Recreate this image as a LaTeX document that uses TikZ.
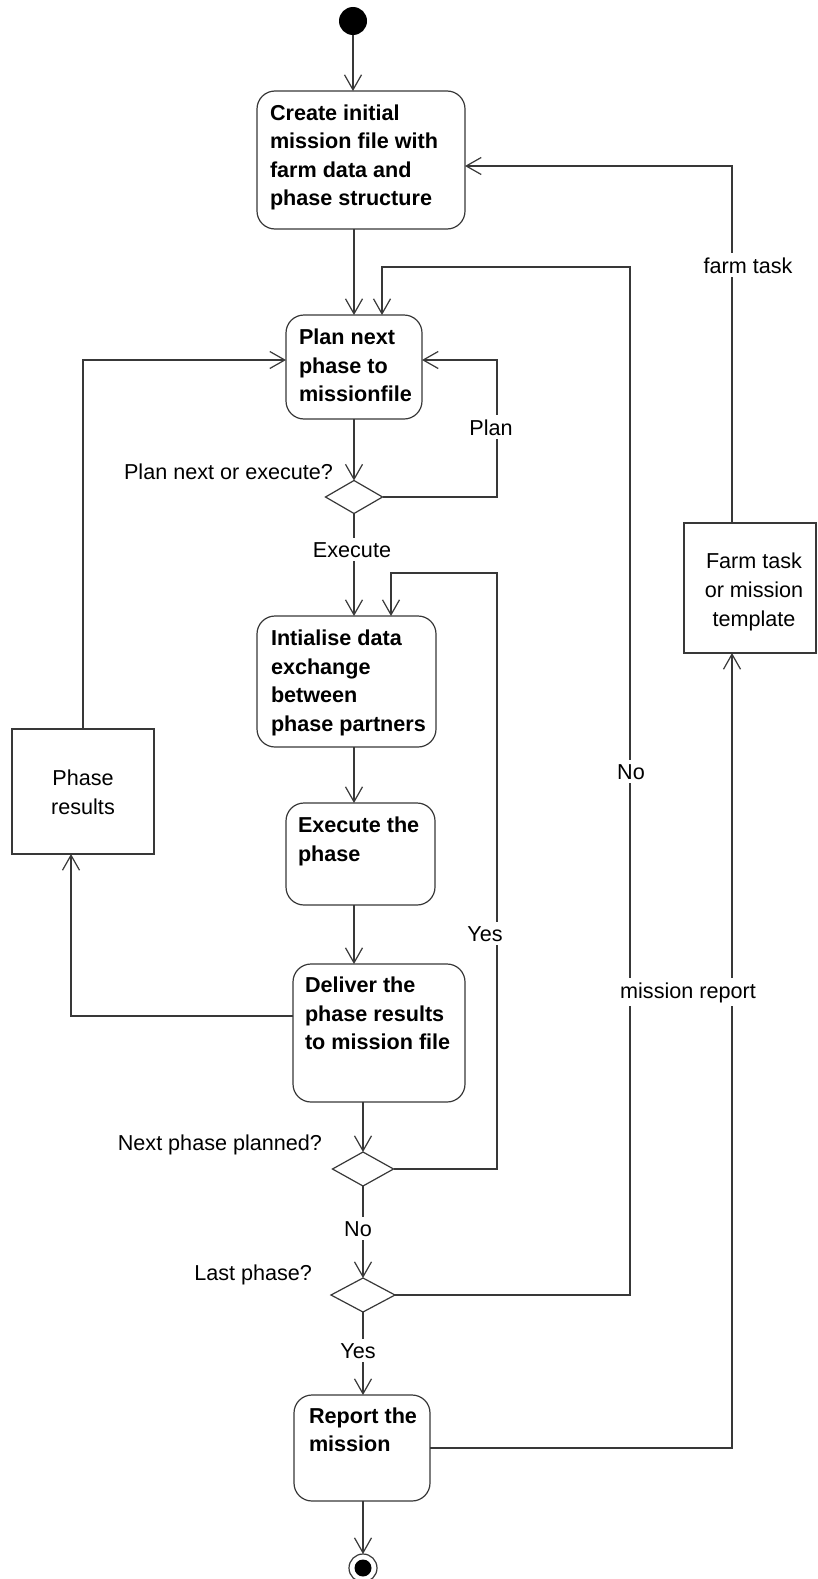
\documentclass[tikz,border=0pt]{standalone}
\usepackage{fontspec}
\setmainfont{Liberation Sans}
\usetikzlibrary{arrows.meta,shapes.geometric,calc}
\definecolor{linec}{RGB}{56,56,56}
\begin{document}
\begin{tikzpicture}[x=1pt,y=-1pt,
  every node/.style={inner sep=0pt, outer sep=0pt},
  act/.style={draw=linec, line width=1.2pt, rounded corners=18pt, anchor=north west, fill=white},
  obj/.style={draw=linec, line width=1.2pt, anchor=north west, fill=white},
  acttext/.style={anchor=north west, align=left, font=\fontsize{21.6}{28.6}\selectfont\bfseries},
  objtext/.style={align=center, font=\fontsize{21.6}{29}\selectfont},
  dec/.style={diamond, draw=linec, line width=1.2pt, fill=white},
  lbl/.style={font=\fontsize{21.6}{26}\selectfont, anchor=base},
  onl/.style={lbl, fill=white, inner sep=4pt},
  flow/.style={draw=linec, line width=1.2pt, -{Straight Barb[length=15pt,width=17pt]}},
]
\fill[white] (0,0) rectangle (817,1579);
\useasboundingbox (0,0) rectangle (817,1579);

% main axis of the activity flow
\coordinate (ax) at (354,0);

% initial and final nodes
\node[circle, fill=black, minimum size=28pt] (start) at (353,21) {};
\node[circle, draw=linec, line width=1.2pt, minimum size=28pt] (end) at (363,1568) {};
\node[circle, fill=black, minimum size=17pt] (endin) at (end.center) {};

% activities
\node[act, minimum width=208pt, minimum height=138pt] (b1) at (257,91) {};
\node[act, minimum width=136pt, minimum height=104pt] (b2) at (286,315) {};
\node[act, minimum width=179pt, minimum height=131pt] (b3) at (257,616) {};
\node[act, minimum width=149pt, minimum height=102pt] (b4) at (286,803) {};
\node[act, minimum width=172pt, minimum height=138pt] (b5) at (293,964) {};
\node[act, minimum width=136pt, minimum height=106pt] (b6) at (294,1395) {};

\node[acttext] (t1) at ($(b1.north west)+(13,13.5)$) {Create initial\\mission file with\\farm data and\\phase structure};
\node[acttext] (t2) at ($(b2.north west)+(13,14)$) {Plan next\\phase to\\missionfile};
\node[acttext] (t3) at ($(b3.north west)+(14,14)$) {Intialise data\\exchange\\between\\phase partners};
\node[acttext] (t4) at ($(b4.north west)+(12,14)$) {Execute the\\phase};
\node[acttext] (t5) at ($(b5.north west)+(12,13)$) {Deliver the\\phase results\\to mission file};
\node[acttext] (t6) at ($(b6.north west)+(15,12.5)$) {Report the\\mission};

% object nodes
\node[obj, minimum width=142pt, minimum height=125pt] (res) at (12,729) {};
\node[objtext] (rest) at (83,792) {Phase\\results};
\node[obj, minimum width=132pt, minimum height=130pt] (tpl) at (684,523) {};
\node[objtext] (tplt) at (754,592) {Farm task\\or mission\\template};

% decisions
\node[dec, minimum width=57pt, minimum height=33pt] (d1) at (354,497) {};
\node[dec, minimum width=61pt, minimum height=34pt] (d2) at (363,1169) {};
\node[dec, minimum width=64pt, minimum height=34pt] (d3) at (363,1295) {};

% control flow
\draw[flow] (start.south) -- (start.south |- b1.north);
\draw[flow] (b1.south -| ax) -- (b2.north -| ax);
\draw[flow] (b2.south -| d1) -- (d1.north);
\draw[flow] (d1.south) -- (d1.south |- b3.north);
\draw[flow] (b3.south -| ax) -- (b4.north -| ax);
\draw[flow] (b4.south -| ax) -- (b5.north -| ax);
\draw[flow] (b5.south -| d2) -- (d2.north);
\draw[flow] (d2.south) -- (d3.north);
\draw[flow] (d3.south) -- (d3.south |- b6.north);
\draw[flow] (b6.south -| end) -- (end.north);

% loop back: plan another phase
\draw[flow] (d1.east) -| ($(b2.east)+(75,-7)$) -- ($(b2.east)+(0,-7)$);
% loop back: next phase already planned
\coordinate (yesTop) at (497,573);
\draw[flow] (d2.east) -| (yesTop) -| ($(b3.north -| ax)+(37,0)$);
% loop back: not the last phase
\coordinate (noTop) at (630,267);
\draw[flow] (d3.east) -| (noTop) -| ($(b2.north)+(28,0)$);

% object flows
\draw[flow] ($(b5.west)+(0,-17)$) -| ($(res.south)+(-12,0)$);
\draw[flow] (res.north) |- ($(b2.west)+(0,-7)$);
\draw[flow] (b6.east) -| ($(tpl.south)+(-18,0)$);
\draw[flow] ($(tpl.north)+(-18,0)$) |- ($(b1.east)+(0,6)$);

% guard and flow labels
\node[lbl, anchor=base east] (q1) at (333,479) {Plan next or execute?};
\node[lbl, anchor=base east] (q2) at (322,1150) {Next phase planned?};
\node[lbl, anchor=base east] (q3) at (312,1280) {Last phase?};
\node[onl] (lplan) at (491,435) {Plan};
\node[onl] (lexec) at (352,557) {Execute};
\node[onl] (lyes1) at (485,941) {Yes};
\node[onl] (lno1) at (358,1236) {No};
\node[onl] (lyes2) at (358,1358) {Yes};
\node[onl] (lno2) at (631,779) {No};
\node[onl] (lfarm) at (748,273) {farm task};
\node[onl] (lrep) at (688,998) {mission report};
\end{tikzpicture}
\end{document}
